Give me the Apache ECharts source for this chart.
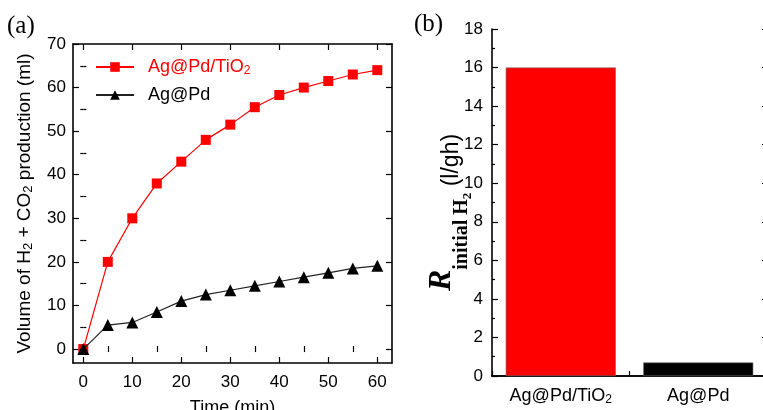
<!DOCTYPE html>
<html><head><meta charset="utf-8">
<script src="https://cdn.jsdelivr.net/npm/echarts@6/dist/echarts.min.js"></script>
<style>html,body{margin:0;padding:0;background:#fff}#c{width:763px;height:410px}</style>
</head><body><div id="c"></div>
<script>
// ---- data ----
const timeMin = [0, 5, 10, 15, 20, 25, 30, 35, 40, 45, 50, 55, 60];
const agPdTiO2 = [0, 20, 30, 38, 43, 48, 51.5, 55.5, 58.3, 60, 61.5, 63, 64];
const agPd = [0, 5.5, 6.1, 8.5, 11, 12.5, 13.5, 14.5, 15.5, 16.5, 17.5, 18.5, 19.1];
const xTicksA = [0, 10, 20, 30, 40, 50, 60];
const xMinorA = [5, 15, 25, 35, 45, 55];
const yTicksA = [0, 10, 20, 30, 40, 50, 60, 70];
const yMinorA = [5, 15, 25, 35, 45, 55, 65];
const barCategories = ['Ag@Pd/TiO2', 'Ag@Pd'];
const barValues = [16, 0.7];
const barColors = ['#ff0000', '#000000'];

const FONT = 'Liberation Sans';
const SERIF = 'Liberation Serif';
const K = '#000';
function subRich(size, color) {
  const lh = Math.round(size * 1.12);
  const ss = Math.round(size * 0.66);
  const c = lh / 2, base = c + 0.35 * size;
  const sc = base + 0.2 * size - 0.35 * ss;
  const slh = Math.max(2, 2 * (lh - sc));
  const n = { fontSize: size, fontFamily: FONT, lineHeight: lh, verticalAlign: 'middle' };
  const s = { fontSize: ss, fontFamily: FONT, lineHeight: slh, verticalAlign: 'bottom' };
  if (color) { n.color = color; s.color = color; }
  return { n: n, s: s };
}
function subFmt(name) {
  const m = name.match(/^(.*O)2$/);
  return m ? '{n|' + m[1] + '}{s|2}' : '{n|' + name + '}';
}

const chart = echarts.init(document.getElementById('c'), null, { renderer: 'canvas' });

function tick(len, vals) { return { show: true, inside: true, length: len, customValues: vals, lineStyle: { color: K, width: 1.2 } }; }
function lineAxis(ext) {
  return Object.assign({
    type: 'value', splitLine: { show: false },
    axisLine: { show: true, onZero: false, lineStyle: { color: K, width: 1.6 } },
    axisLabel: { show: false }
  }, ext);
}

const xA = { gridIndex: 0, min: -2.1, max: 63 };
const yA = { gridIndex: 0, min: -3.2, max: 70 };

const option = {
  backgroundColor: '#fff',
  animation: false,
  grid: [
    { left: 73, top: 44, width: 319, height: 319, containLabel: false, outerBoundsMode: 'none' },
    { left: 492, top: 29, width: 275, height: 347, containLabel: false, outerBoundsMode: 'none' }
  ],
  graphic: [
    { type: 'text', left: 7, top: 14, style: { text: '(a)', fontSize: 25, fontFamily: SERIF, fill: K } },
    { type: 'text', left: 414, top: 12, style: { text: '(b)', fontSize: 25, fontFamily: SERIF, fill: K } }
  ],
  legend: {
    orient: 'vertical', left: 90, top: 53, itemWidth: 38, itemHeight: 12, itemGap: 9,
    formatter: subFmt,
    data: [
      { name: 'Ag@Pd/TiO2', textStyle: { color: '#ff0000', fontFamily: FONT, padding: [0, 0, 0, 9], rich: subRich(18, '#ff0000') } },
      { name: 'Ag@Pd', textStyle: { color: K, fontFamily: FONT, padding: [0, 0, 0, 9], rich: subRich(18, K) } }
    ]
  },
  xAxis: [
    lineAxis(Object.assign({}, xA, { position: 'bottom', axisTick: tick(6, xTicksA),
      axisLabel: { show: true, customValues: xTicksA, color: K, fontSize: 17, fontFamily: FONT, margin: 11 },
      name: 'Time (min)', nameLocation: 'middle', nameGap: 36,
      nameTextStyle: { color: K, fontSize: 18, fontFamily: FONT } })),
    lineAxis(Object.assign({}, xA, { position: 'bottom', axisLine: { show: false }, axisTick: tick(3, xMinorA) })),
    lineAxis(Object.assign({}, xA, { position: 'top', axisTick: tick(6, xTicksA) })),
    lineAxis(Object.assign({}, xA, { position: 'top', axisLine: { show: false }, axisTick: tick(3, xMinorA) })),
    {
      type: 'category', gridIndex: 1, position: 'bottom', data: barCategories,
      axisLine: { show: true, lineStyle: { color: K, width: 1.6 } },
      axisTick: { show: true, inside: true, length: 5, alignWithLabel: false, lineStyle: { color: K, width: 1.2 } },
      axisLabel: { color: K, fontFamily: FONT, margin: 10, interval: 0, formatter: subFmt, rich: subRich(18) }
    },
    {
      type: 'category', gridIndex: 1, position: 'top', data: barCategories,
      axisLine: { show: true, lineStyle: { color: K, width: 1.6 } },
      axisTick: { show: false }, axisLabel: { show: false }
    }
  ],
  yAxis: [
    lineAxis(Object.assign({}, yA, { position: 'left', axisTick: tick(6, yTicksA),
      axisLabel: { show: true, customValues: yTicksA, color: K, fontSize: 17, fontFamily: FONT, margin: 7 },
      name: '{n|Volume of H}{s|2}{n| + CO}{s|2}{n| production (ml)}', nameLocation: 'middle', nameGap: 38, nameRotate: 90,
      nameTextStyle: { color: K, fontFamily: FONT, rich: subRich(19) } })),
    lineAxis(Object.assign({}, yA, { position: 'left', axisLine: { show: false }, axisTick: tick(3, yMinorA) })),
    lineAxis(Object.assign({}, yA, { position: 'right', axisTick: tick(6, yTicksA) })),
    lineAxis(Object.assign({}, yA, { position: 'right', axisLine: { show: false }, axisTick: tick(3, yMinorA) })),
    {
      type: 'value', gridIndex: 1, position: 'left', min: 0, max: 18, interval: 2,
      splitLine: { show: false },
      axisLine: { show: true, lineStyle: { color: K, width: 1.6 } },
      axisTick: { show: true, inside: true, length: 6, lineStyle: { color: K, width: 1.2 } },
      minorTick: { show: true, splitNumber: 2, length: 3, lineStyle: { color: K, width: 1.2 } },
      axisLabel: { color: K, fontSize: 17, fontFamily: FONT, margin: 9 },
      name: '{R|R}{i|initial H}{t|2}{u| (l/gh)}', nameLocation: 'middle', nameRotate: 90, nameGap: 18,
      nameMoveOverlap: false,
      nameTextStyle: { color: K, rich: {
        R: { fontSize: 32, fontFamily: SERIF, fontStyle: 'italic', fontWeight: 'bold', verticalAlign: 'top', padding: [0, 0, 0, 0] },
        i: { fontSize: 20, fontFamily: SERIF, fontWeight: 'bold', verticalAlign: 'top', padding: [26, 0, 0, 0] },
        t: { fontSize: 13, fontFamily: SERIF, fontWeight: 'bold', verticalAlign: 'top', padding: [35, 0, 0, 0] },
        u: { fontSize: 23, fontFamily: FONT, verticalAlign: 'top', padding: [14, 20, 0, 0] }
      } }
    },
    {
      type: 'value', gridIndex: 1, position: 'right', min: 0, max: 18, interval: 2,
      splitLine: { show: false },
      axisLine: { show: true, lineStyle: { color: K, width: 1.6 } },
      axisTick: { show: true, inside: true, length: 5, lineStyle: { color: K, width: 1.2 } },
      axisLabel: { show: false }
    }
  ],
  series: [
    {
      name: 'Ag@Pd/TiO2', type: 'line', xAxisIndex: 0, yAxisIndex: 0,
      data: timeMin.map((t, i) => [t, agPdTiO2[i]]),
      symbol: 'rect', symbolSize: 10, color: '#ff0000',
      lineStyle: { color: '#ff0000', width: 1.2 }, itemStyle: { color: '#ff0000' }, z: 3
    },
    {
      name: 'Ag@Pd', type: 'line', xAxisIndex: 0, yAxisIndex: 0,
      data: timeMin.map((t, i) => [t, agPd[i]]),
      symbol: 'triangle', symbolSize: 12, color: K,
      lineStyle: { color: '#222', width: 1.2 }, itemStyle: { color: K }, z: 4
    },
    {
      name: 'rate', type: 'bar', xAxisIndex: 4, yAxisIndex: 4, barWidth: '80%',
      data: barValues.map((v, i) => ({ value: v, itemStyle: { color: barColors[i], borderColor: '#666', borderWidth: 0.6 } }))
    }
  ]
};
chart.setOption(option);
</script>
</body></html>
